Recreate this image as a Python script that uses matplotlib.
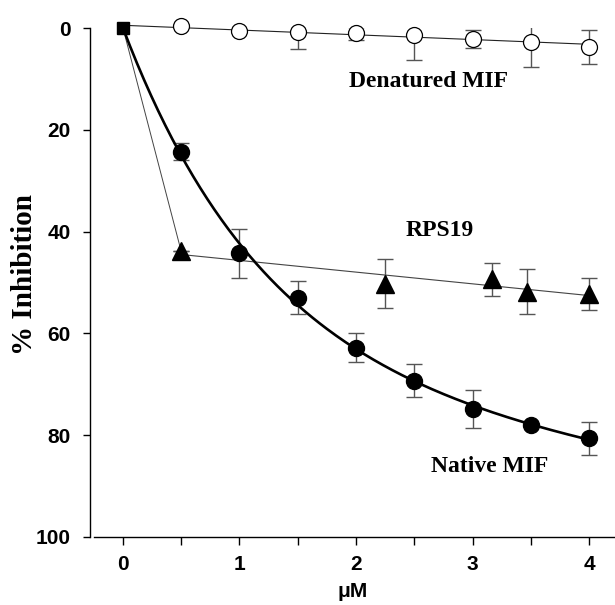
import numpy as np
import matplotlib
matplotlib.use("Agg")
import matplotlib.pyplot as plt

# data (x in uM, y in % inhibition)
start_x = [0.0]
start_y = [0.0]

native_x = [0.5, 1.0, 1.5, 2.0, 2.5, 3.0, 3.5, 4.0]
native_y = [24.3, 44.3, 53.0, 62.8, 69.3, 74.9, 77.9, 80.6]
native_err = [1.7, 4.8, 3.2, 2.9, 3.2, 3.7, 0.0, 3.2]

denat_x = [0.5, 1.0, 1.5, 2.0, 2.5, 3.0, 3.5, 4.0]
denat_y = [-0.4, 0.5, 0.85, 1.05, 1.4, 2.2, 2.7, 3.7]
denat_err = [0.0, 0.0, 3.3, 1.3, 4.8, 1.8, 5.0, 3.3]

rps_x = [0.5, 2.25, 3.17, 3.47, 4.0]
rps_y = [43.9, 50.2, 49.4, 51.8, 52.3]
rps_err = [0.0, 4.9, 3.2, 4.4, 3.2]

x_ticks = [0, 1, 2, 3, 4]
y_ticks = [0, 20, 40, 60, 80, 100]

SERIF = ['Liberation Serif', 'DejaVu Serif']
SANS = ['Liberation Sans', 'DejaVu Sans']

fig = plt.figure(figsize=(6.15, 6.05), dpi=100)
ax = fig.add_axes([90 / 615, 1 - 537 / 605, 525 / 615, 509 / 605])

# native MIF: saturating fit y = A(1-exp(-bx)) + Cx
nx = np.array(start_x + native_x)
ny = np.array(start_y + native_y)
best = None
for b in np.linspace(0.1, 5, 500):
    M = np.column_stack([1 - np.exp(-b * nx), nx])
    coef, res, _, _ = np.linalg.lstsq(M, ny, rcond=None)
    r = np.sum((M @ coef - ny) ** 2)
    if best is None or r < best[0]:
        best = (r, b, coef)
_, b, (A, C) = best
xs = np.linspace(0, 4, 200)
ax.plot(xs, A * (1 - np.exp(-b * xs)) + C * xs, color='black', lw=1.9, zorder=3, clip_on=False)

# denatured MIF: straight line
dx = np.array(start_x + denat_x)
dy = np.array(start_y + denat_y)
p = np.polyfit(dx, dy, 1)
ax.plot([dx[0], dx[-1]], np.polyval(p, [dx[0], dx[-1]]), color='#222222', lw=0.8, zorder=2, clip_on=False)

# RPS19: first segment then straight line
ax.plot([start_x[0], rps_x[0]], [start_y[0], rps_y[0]], color='#444444', lw=0.7, zorder=2)
q = np.polyfit(rps_x, rps_y, 1)
ax.plot([rps_x[0], rps_x[-1]], np.polyval(q, [rps_x[0], rps_x[-1]]), color='#444444', lw=0.8, zorder=2)

eb = dict(fmt='none', ecolor='#555555', elinewidth=1.0, capsize=6, capthick=1.0, zorder=2)
ax.errorbar(native_x, native_y, yerr=native_err, **eb)
ax.errorbar(denat_x, denat_y, yerr=denat_err, **eb)
ax.errorbar(rps_x, rps_y, yerr=rps_err, **eb)

ax.plot(native_x, native_y, 'o', ms=11.5, mfc='black', mec='black', zorder=4)
ax.plot(denat_x, denat_y, 'o', ms=11.5, mfc='white', mec='black', mew=0.9, zorder=4, clip_on=False)
ax.plot(rps_x, rps_y, '^', ms=13, mfc='black', mec='black', zorder=4)
ax.plot(start_x, start_y, 's', ms=9, mfc='black', mec='black', zorder=5, clip_on=False)

ax.text(2.62, 10.6, 'Denatured MIF', family=SERIF, fontweight='bold', fontsize=17, ha='center', va='center')
ax.text(2.72, 39.8, 'RPS19', family=SERIF, fontweight='bold', fontsize=17, ha='center', va='center')
ax.text(3.15, 86.2, 'Native MIF', family=SERIF, fontweight='bold', fontsize=17, ha='center', va='center')

ax.set_xlim(-0.283, 4.223)
ax.set_ylim(100, 0)
ax.set_xticks(x_ticks)
ax.set_xticks([0.5, 1.5, 2.5, 3.5], minor=True)
ax.set_yticks(y_ticks)
ax.set_xticklabels([str(v) for v in x_ticks], family=SANS, fontweight='bold', fontsize=15)
ax.set_yticklabels([str(v) for v in y_ticks], family=SANS, fontweight='bold', fontsize=15)
ax.tick_params(axis='x', which='both', direction='out', length=6, width=1.0, pad=7)
ax.tick_params(axis='y', direction='out', length=5, width=1.0, pad=9)

ax.spines['top'].set_visible(False)
ax.spines['right'].set_visible(False)
ax.spines['left'].set_linewidth(1.0)
ax.spines['bottom'].set_linewidth(1.0)
ax.spines['bottom'].set_bounds(-0.25, 4.223)

ax.set_ylabel('% Inhibition', family=SERIF, fontweight='bold', fontsize=21)
ax.yaxis.set_label_coords(-0.125, 0.515)
ax.yaxis.label.set_va('center')
ax.set_xlabel('\u03bcM', family=SANS, fontweight='bold', fontsize=15, labelpad=6)

fig.savefig('out.png', dpi=100, facecolor='white')
